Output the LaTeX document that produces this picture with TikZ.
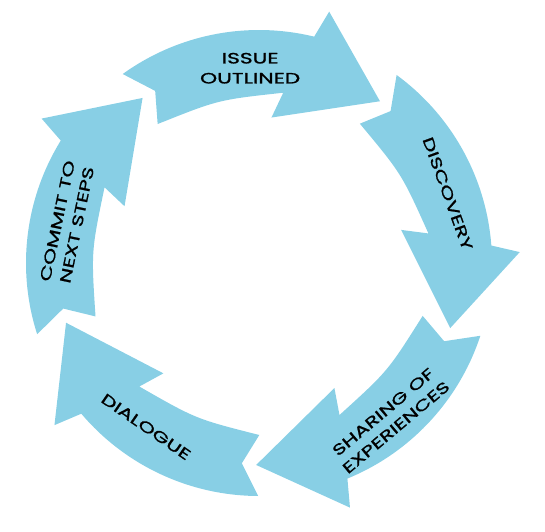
\documentclass[tikz,border=0pt]{standalone}
\usepackage{fontspec}
\newfontfamily\lblfont[FakeStretch=1.45,FakeBold=1.2]{Poppins}
\definecolor{arrowblue}{RGB}{136,207,229}
\tikzset{
  cyclearrow/.style={fill=arrowblue, draw=none},
  lbl/.style={font=\lblfont\fontsize{15}{20}\selectfont, align=center, text=black, inner sep=0pt}
}
\newcommand{\cyclearrowpath}[1]{%
  \fill[cyclearrow] (#1:202pt) -- (#1+21.2:261pt) -- (#1+23.1:233pt)
    arc[start angle=#1+23.1, end angle=#1+72.6, radius=233pt]
    -- (#1+67.9:201pt) -- (#1+72.9:172pt)
    .. controls (#1+50.8:168.2pt) .. (#1+28.7:172pt)
    -- (#1+31.9:146pt) -- cycle;}
\begin{document}
\begin{tikzpicture}
\useasboundingbox (-259pt,-268pt) rectangle (286pt,263pt);
\foreach \t in {53.2,-18.8,-90.8,-162.8,-234.8} {\cyclearrowpath{\t}}
\node[lbl] (issue) at (92.6:195pt) {ISSUE\\OUTLINED};
\node[lbl, rotate=-70] (discovery) at (20.2:201pt) {DISCOVERY};
\node[lbl, rotate=40] (sharing) at (-50.2:204pt) {SHARING OF\\EXPERIENCES};
\node[lbl, rotate=-34.6] (dialogue) at (-124.6:199pt) {DIALOGUE};
\node[lbl, rotate=78.2] (commit) at (168.2:196pt) {COMMIT TO\\NEXT STEPS};
\end{tikzpicture}
\end{document}
